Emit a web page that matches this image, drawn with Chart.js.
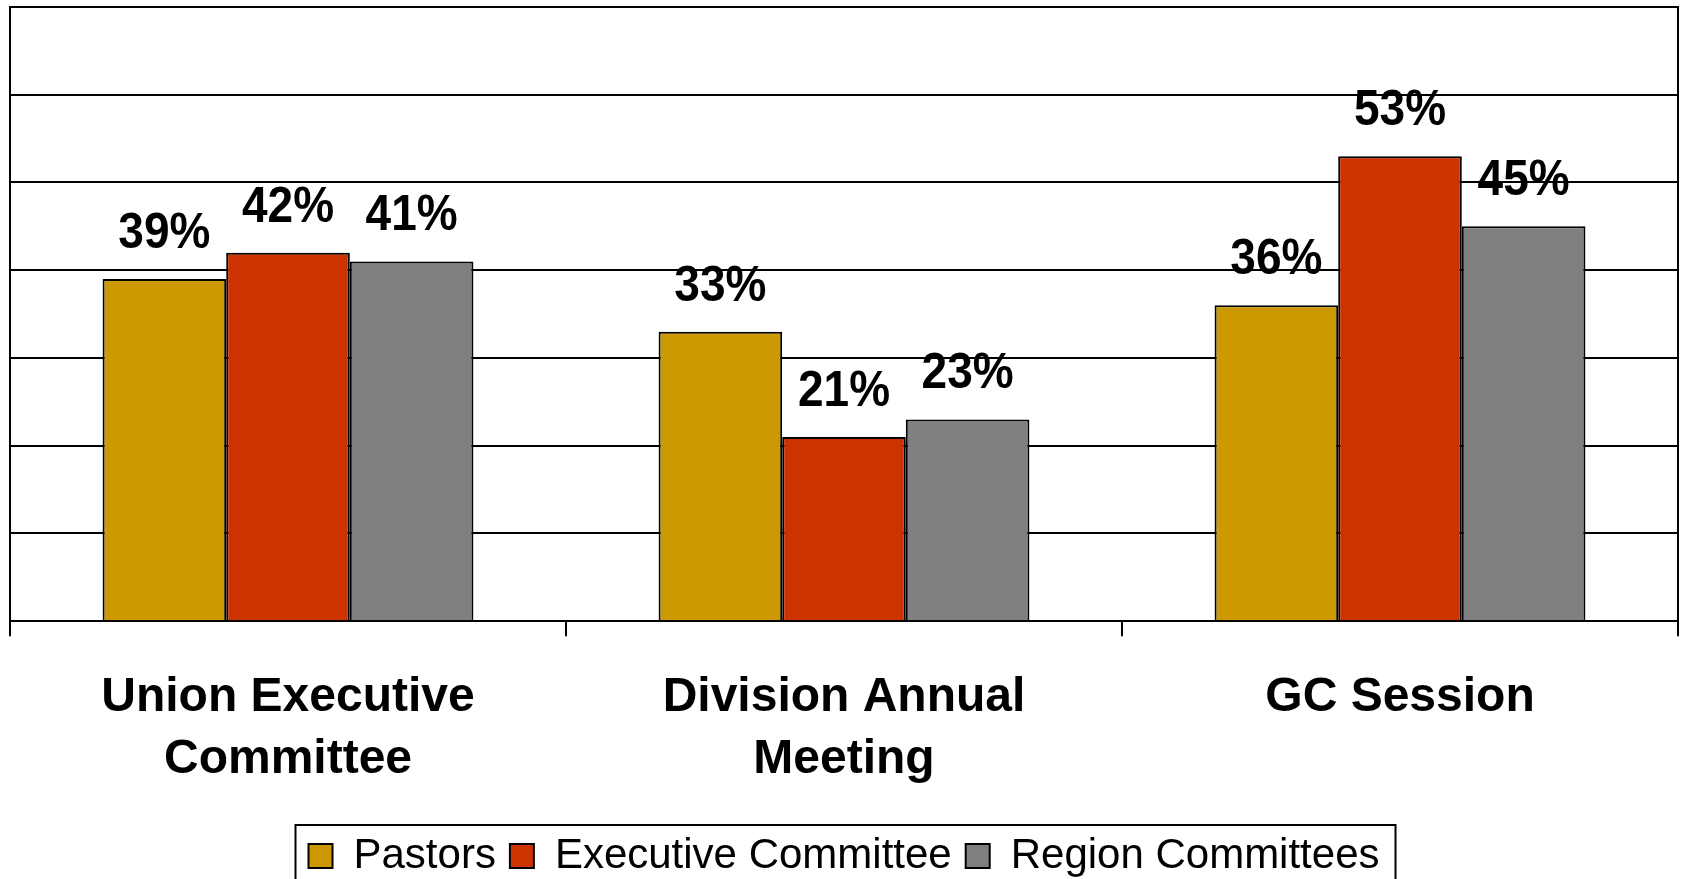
<!DOCTYPE html>
<html>
<head>
<meta charset="utf-8">
<script src="https://cdn.jsdelivr.net/npm/chart.js@4/dist/chart.umd.min.js"></script>
<style>
  html, body { margin: 0; padding: 0; background: #ffffff; }
  #wrap { width: 1681px; height: 879px; position: relative; }
</style>
</head>
<body>
<div id="wrap"><canvas id="c" width="1681" height="879"></canvas></div>
<script>
const categories = [
  ['Union Executive', 'Committee'],
  ['Division Annual', 'Meeting'],
  ['GC Session']
];
const seriesNames = ['Pastors', 'Executive Committee', 'Region Committees'];
const pastors = [39, 33, 36];
const executiveCommittee = [42, 21, 53];
const regionCommittees = [41, 23, 45];
const seriesColors = ['#CC9900', '#CC3300', '#808080'];
const yTicks = [0, 10, 20, 30, 40, 50, 60, 70];

const FONT = '"Liberation Sans", Arial, Helvetica, sans-serif';

const dataLabelPlugin = {
  id: 'dataLabels',
  afterDatasetsDraw(chart) {
    const ctx = chart.ctx;
    chart.data.datasets.forEach((ds, i) => {
      const meta = chart.getDatasetMeta(i);
      meta.data.forEach((bar, j) => {
        ctx.save();
        ctx.font = 'bold 46px ' + FONT;
        ctx.fillStyle = '#000000';
        ctx.textAlign = 'center';
        ctx.textBaseline = 'alphabetic';
        ctx.translate(bar.x, bar.y - 31);
        ctx.scale(1, 1.08);
        ctx.fillText(ds.data[j] + '%', 0, 0);
        ctx.restore();
      });
    });
  }
};

const legendBorderPlugin = {
  id: 'legendBorder',
  afterDraw(chart) {
    const lg = chart.legend;
    if (!lg || !lg.legendHitBoxes || !lg.legendHitBoxes.length) return;
    const hb = lg.legendHitBoxes;
    let l = Infinity, r = -Infinity, t = Infinity;
    hb.forEach(b => {
      l = Math.min(l, b.left);
      r = Math.max(r, b.left + b.width);
      t = Math.min(t, b.top);
    });
    const ctx = chart.ctx;
    ctx.save();
    ctx.strokeStyle = '#000000';
    ctx.lineWidth = 2;
    ctx.strokeRect(l - 13, t - 10, (r + 16) - (l - 13), chart.height + 20 - (t - 10));
    ctx.restore();
  }
};

const datasets = [pastors, executiveCommittee, regionCommittees].map((vals, i) => ({
  label: seriesNames[i],
  data: vals,
  backgroundColor: seriesColors[i],
  borderColor: '#000000',
  borderWidth: 2,
  borderSkipped: 'start',
  categoryPercentage: 0.667,
  barPercentage: 1.0
}));

new Chart(document.getElementById('c'), {
  type: 'bar',
  data: { labels: categories, datasets },
  options: {
    responsive: false,
    animation: false,
    devicePixelRatio: 1,
    layout: { padding: { left: 10, right: 3, top: 7, bottom: -8 } },
    plugins: {
      legend: {
        position: 'bottom',
        labels: {
          font: { family: FONT, size: 42 },
          color: '#000000',
          boxWidth: 24,
          boxHeight: 24,
          padding: 14
        }
      },
      tooltip: { enabled: false },
      title: { display: false }
    },
    scales: {
      x: {
        offset: true,
        grid: {
          display: true,
          offset: true,
          drawOnChartArea: false,
          drawTicks: true,
          tickLength: 15,
          color: '#000000',
          lineWidth: 2
        },
        border: { display: true, color: '#000000', width: 2 },
        ticks: {
          color: '#000000',
          font: { family: FONT, size: 48, weight: 'bold', lineHeight: 1.3 },
          padding: 30,
          maxRotation: 0,
          autoSkip: false
        }
      },
      y: {
        min: yTicks[0],
        max: yTicks[yTicks.length - 1],
        afterBuildTicks(scale) { scale.ticks = yTicks.map(v => ({ value: v })); },
        grid: { color: '#000000', lineWidth: 2, drawTicks: false },
        border: { display: true, color: '#000000', width: 2 },
        ticks: { display: false }
      },
      y2: {
        position: 'right',
        grid: { display: false, drawTicks: false },
        border: { display: true, color: '#000000', width: 2 },
        ticks: { display: false }
      }
    }
  },
  plugins: [dataLabelPlugin, legendBorderPlugin]
});
</script>
</body>
</html>
